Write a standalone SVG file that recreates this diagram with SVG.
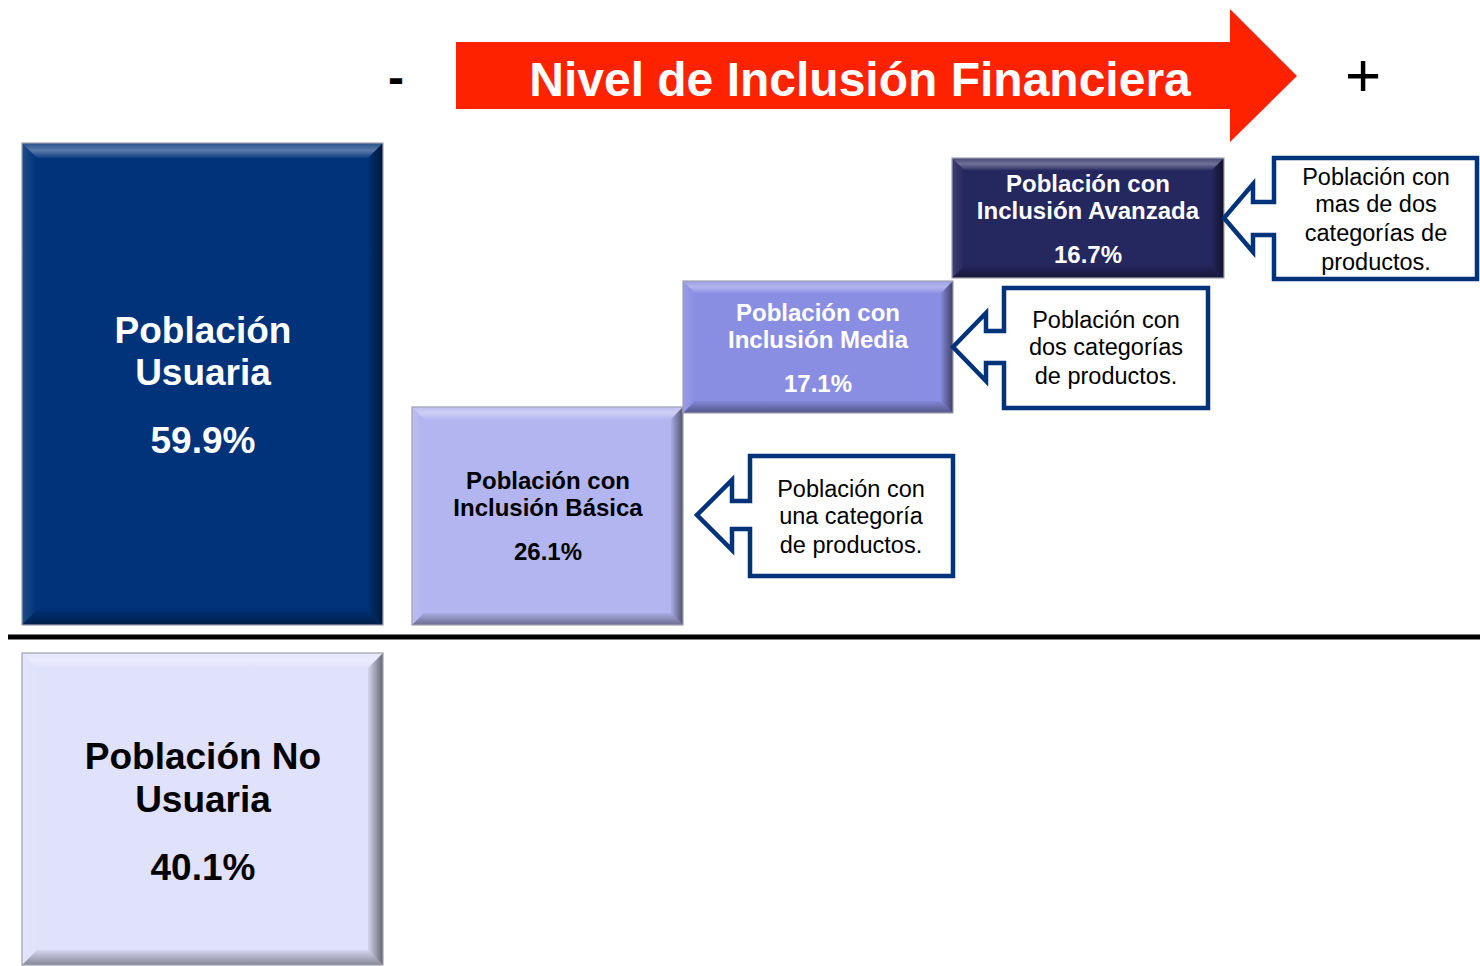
<svg xmlns="http://www.w3.org/2000/svg" width="1480" height="966" viewBox="0 0 1480 966">
<defs>
  <linearGradient id="gTop" x1="0" y1="0" x2="0" y2="1">
    <stop offset="0" stop-color="#ffffff" stop-opacity="0.15"/>
    <stop offset="0.5" stop-color="#ffffff" stop-opacity="0.35"/>
    <stop offset="1" stop-color="#ffffff" stop-opacity="0.05"/>
  </linearGradient>
  <linearGradient id="gLeft" x1="0" y1="0" x2="1" y2="0">
    <stop offset="0" stop-color="#ffffff" stop-opacity="0.12"/>
    <stop offset="1" stop-color="#ffffff" stop-opacity="0"/>
  </linearGradient>
  <linearGradient id="gRight" x1="0" y1="0" x2="1" y2="0">
    <stop offset="0" stop-color="#000000" stop-opacity="0.05"/>
    <stop offset="1" stop-color="#000000" stop-opacity="0.55"/>
  </linearGradient>
  <linearGradient id="gBottom" x1="0" y1="0" x2="0" y2="1">
    <stop offset="0" stop-color="#000000" stop-opacity="0.05"/>
    <stop offset="1" stop-color="#000000" stop-opacity="0.4"/>
  </linearGradient>
</defs>
<style>
.t{font-family:"Liberation Sans",Arial,sans-serif;text-anchor:middle}
.b{font-weight:bold}
.w{fill:#ffffff}
.k{fill:#000000}
.hl{fill:url(#gTop)}
.hl2{fill:url(#gLeft)}
.sh{fill:url(#gRight)}
.sh2{fill:url(#gBottom)}
.edge{fill:none;stroke:#a0a0b0;stroke-width:1.2}
.co{fill:#ffffff;stroke:#00337a;stroke-width:4.5;stroke-linejoin:miter}
</style>
<rect width="1480" height="966" fill="#ffffff"/>

<g id="header">
  <path d="M456,42 H1230 V9 L1297,76 L1230,142 V109 H456 Z" fill="#ff2200"/>
  <text class="t b w" x="860" y="96" font-size="48">Nivel de Inclusión Financiera</text>
  <text class="t b k" x="396" y="94" font-size="48">-</text>
  <text class="t k" x="1363" y="96" font-size="62">+</text>
</g>

<g id="divider">
  <line x1="8" y1="637" x2="1480" y2="637" stroke="#000000" stroke-width="5"/>
</g>

<g id="usuaria">
  <rect x="22" y="143" width="361" height="482" fill="#00337a"/>
  <path class="hl" d="M22,143 H383 L368,158 H37 Z"/>
  <path class="hl2" d="M22,143 L37,158 V610 L22,625 Z"/>
  <path class="sh" d="M383,143 V625 L368,610 V158 Z"/>
  <path class="sh2" d="M22,625 H383 L368,610 H37 Z"/>
  <rect class="edge" x="22" y="143" width="361" height="482"/>
  <text class="t b w" x="203" y="343" font-size="37">Población</text>
  <text class="t b w" x="203" y="385" font-size="37">Usuaria</text>
  <text class="t b w" x="203" y="453" font-size="37">59.9%</text>
</g>

<g id="no-usuaria">
  <rect x="22" y="653" width="361" height="312" fill="#e0e1fb"/>
  <path class="hl" d="M22,653 H383 L368,668 H37 Z"/>
  <path class="hl2" d="M22,653 L37,668 V950 L22,965 Z"/>
  <path class="sh" d="M383,653 V965 L368,950 V668 Z"/>
  <path class="sh2" d="M22,965 H383 L368,950 H37 Z"/>
  <rect class="edge" x="22" y="653" width="361" height="312"/>
  <text class="t b k" x="203" y="769" font-size="37">Población No</text>
  <text class="t b k" x="203" y="812" font-size="37">Usuaria</text>
  <text class="t b k" x="203" y="880" font-size="37">40.1%</text>
</g>

<g id="basica">
  <rect x="412" y="407" width="271" height="218" fill="#b2b5ef"/>
  <path class="hl" d="M412,407 H683 L671,419 H424 Z"/>
  <path class="hl2" d="M412,407 L424,419 V613 L412,625 Z"/>
  <path class="sh" d="M683,407 V625 L671,613 V419 Z"/>
  <path class="sh2" d="M412,625 H683 L671,613 H424 Z"/>
  <rect class="edge" x="412" y="407" width="271" height="218"/>
  <text class="t b k" x="548" y="489" font-size="24">Población con</text>
  <text class="t b k" x="548" y="516" font-size="24">Inclusión Básica</text>
  <text class="t b k" x="548" y="560" font-size="24">26.1%</text>
</g>

<g id="media">
  <rect x="683" y="281" width="270" height="132" fill="#8a8ee2"/>
  <path class="hl" d="M683,281 H953 L941,293 H695 Z"/>
  <path class="hl2" d="M683,281 L695,293 V401 L683,413 Z"/>
  <path class="sh" d="M953,281 V413 L941,401 V293 Z"/>
  <path class="sh2" d="M683,413 H953 L941,401 H695 Z"/>
  <rect class="edge" x="683" y="281" width="270" height="132"/>
  <text class="t b w" x="818" y="321" font-size="24">Población con</text>
  <text class="t b w" x="818" y="348" font-size="24">Inclusión Media</text>
  <text class="t b w" x="818" y="392" font-size="24">17.1%</text>
</g>

<g id="avanzada">
  <rect x="952" y="158" width="272" height="120" fill="#25275f"/>
  <path class="hl" d="M952,158 H1224 L1212,170 H964 Z"/>
  <path class="hl2" d="M952,158 L964,170 V266 L952,278 Z"/>
  <path class="sh" d="M1224,158 V278 L1212,266 V170 Z"/>
  <path class="sh2" d="M952,278 H1224 L1212,266 H964 Z"/>
  <rect class="edge" x="952" y="158" width="272" height="120"/>
  <text class="t b w" x="1088" y="192" font-size="24">Población con</text>
  <text class="t b w" x="1088" y="219" font-size="24">Inclusión Avanzada</text>
  <text class="t b w" x="1088" y="263" font-size="24">16.7%</text>
</g>

<g id="connectors">
  <g id="callout-basica">
    <path class="co" d="M750,456 H953 V576 H750 V529 H732 V550 L697,515 L732,480 V501 H750 Z"/>
    <text class="t k" x="851" y="497" font-size="23.5">Población con</text>
    <text class="t k" x="851" y="524" font-size="23.5">una categoría</text>
    <text class="t k" x="851" y="553" font-size="23.5">de productos.</text>
  </g>
  <g id="callout-media">
    <path class="co" d="M1004,288 H1208 V408 H1004 V363 H986 V381 L953,347 L986,313 V331 H1004 Z"/>
    <text class="t k" x="1106" y="328" font-size="23.5">Población con</text>
    <text class="t k" x="1106" y="355" font-size="23.5">dos categorías</text>
    <text class="t k" x="1106" y="384" font-size="23.5">de productos.</text>
  </g>
  <g id="callout-avanzada">
    <path class="co" d="M1274,158 H1477 V279 H1274 V235 H1253 V252 L1224,218 L1253,184 V202 H1274 Z"/>
    <text class="t k" x="1376" y="185" font-size="23.5">Población con</text>
    <text class="t k" x="1376" y="212" font-size="23.5">mas de dos</text>
    <text class="t k" x="1376" y="241" font-size="23.5">categorías de</text>
    <text class="t k" x="1376" y="270" font-size="23.5">productos.</text>
  </g>
</g>
</svg>
